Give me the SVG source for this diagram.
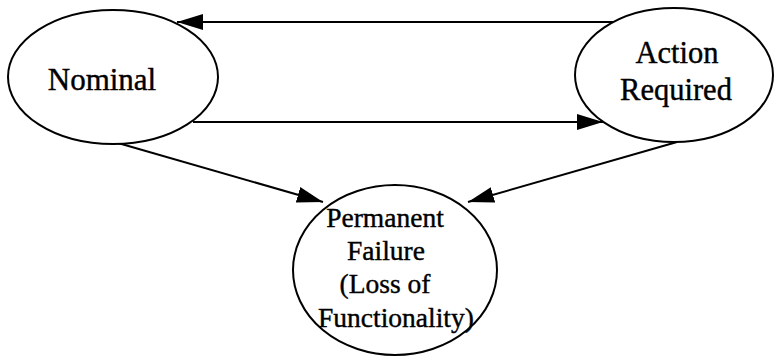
<svg xmlns="http://www.w3.org/2000/svg" width="774" height="357" viewBox="0 0 774 357">
  <style>
    .node { fill: #ffffff; stroke: #000000; stroke-width: 2; }
    .label { font-family: "Liberation Serif", "Times New Roman", serif; fill: #000000; stroke: #000000; stroke-width: 0.4; text-anchor: middle; }
    .edge { stroke: #000000; stroke-width: 2; fill: none; }
  </style>
  <defs>
    <marker id="arrow" markerUnits="userSpaceOnUse" markerWidth="28" markerHeight="18" refX="26" refY="8" orient="auto">
      <path d="M0,0 L26,8 L0,16 Z" fill="#000000"/>
    </marker>
  </defs>
  <rect width="774" height="357" fill="#ffffff"/>

  <g id="edges">
    <line class="edge" x1="617" y1="22" x2="177" y2="22" marker-end="url(#arrow)"/>
    <line class="edge" x1="193" y1="122" x2="603" y2="122" marker-end="url(#arrow)"/>
    <line class="edge" x1="118" y1="143" x2="323" y2="202" marker-end="url(#arrow)"/>
    <line class="edge" x1="677" y1="142" x2="468" y2="202" marker-end="url(#arrow)"/>
  </g>

  <g id="nominal">
    <ellipse class="node" cx="113" cy="77" rx="105" ry="67"/>
    <text class="label" x="102" y="90" font-size="31">Nominal</text>
  </g>

  <g id="action-required">
    <ellipse class="node" cx="674" cy="75" rx="99" ry="67"/>
    <text class="label" x="677" y="63" font-size="30.5">Action</text>
    <text class="label" x="676" y="100" font-size="30.5">Required</text>
  </g>

  <g id="permanent-failure">
    <ellipse class="node" cx="395" cy="270" rx="102" ry="85"/>
    <text class="label" x="385" y="227" font-size="27.5">Permanent</text>
    <text class="label" x="386" y="260" font-size="27.5">Failure</text>
    <text class="label" x="385" y="293" font-size="27.5">(Loss of</text>
    <text class="label" x="396" y="327" font-size="27.5">Functionality)</text>
  </g>
</svg>
